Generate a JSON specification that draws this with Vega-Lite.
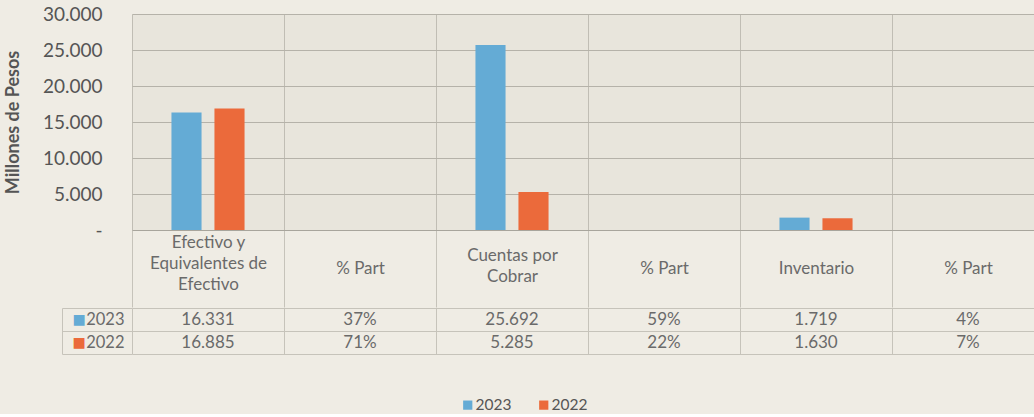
{
  "$schema": "https://vega.github.io/schema/vega-lite/v6.json",
  "background": "#efece4",
  "padding": {"left": 4, "top": 5, "right": 0, "bottom": 0},
  "config": {
    "font": "Lato",
    "view": {"stroke": null}
  },
  "data": {
    "values": [
      {"col": "Efectivo y\nEquivalentes de\nEfectivo", "year": "2023", "value": 16331},
      {"col": "Efectivo y\nEquivalentes de\nEfectivo", "year": "2022", "value": 16885},
      {"col": "% Part", "year": "2023", "value": 0.37},
      {"col": "% Part", "year": "2022", "value": 0.71},
      {"col": "Cuentas por\nCobrar", "year": "2023", "value": 25692},
      {"col": "Cuentas por\nCobrar", "year": "2022", "value": 5285},
      {"col": "% Part ", "year": "2023", "value": 0.59},
      {"col": "% Part ", "year": "2022", "value": 0.22},
      {"col": "Inventario", "year": "2023", "value": 1719},
      {"col": "Inventario", "year": "2022", "value": 1630},
      {"col": "% Part  ", "year": "2023", "value": 0.04},
      {"col": "% Part  ", "year": "2022", "value": 0.07}
    ]
  },
  "spacing": -9,
  "vconcat": [
    {
      "width": 912,
      "height": 216,
      "view": {"fill": "#e8e5dc", "stroke": null},
      "mark": {"type": "bar"},
      "encoding": {
        "x": {
          "field": "col", "type": "nominal",
          "sort": ["Efectivo y\nEquivalentes de\nEfectivo", "% Part", "Cuentas por\nCobrar", "% Part ", "Inventario", "% Part  "],
          "scale": {"paddingInner": 0, "paddingOuter": 0},
          "axis": {
            "title": null, "orient": "bottom",
            "domain": true, "domainColor": "#a8a59c",
            "ticks": true, "tickBand": "extent", "tickSize": 77, "tickColor": "#c6c3ba",
            "grid": true, "gridColor": "#c0bdb4",
            "labelExpr": "split(trim(datum.label), '\\n')",
            "labelAngle": 0, "labelAlign": "center", "labelBaseline": "middle",
            "labelPadding": {
              "condition": [
                {"test": "length(split(datum.value, '\\n')) == 3", "value": -65},
                {"test": "length(split(datum.value, '\\n')) == 2", "value": -52}
              ],
              "value": -39
            },
            "labelLineHeight": 21,
            "labelFontSize": 17, "labelColor": "#6a6a6a"
          }
        },
        "xOffset": {
          "field": "year", "type": "nominal", "sort": ["2023", "2022"],
          "scale": {"paddingInner": 0.3, "paddingOuter": 0.9175}
        },
        "y": {
          "field": "value", "type": "quantitative",
          "scale": {"domain": [0, 30000]},
          "axis": {
            "title": "Millones de Pesos", "titleFontSize": 18, "titleFontWeight": "bold",
            "titleColor": "#555555", "titlePadding": 20,
            "values": [0, 5000, 10000, 15000, 20000, 25000, 30000],
            "labelExpr": "datum.value == 0 ? '-\u00a0\u00a0' : replace(format(datum.value, ','), ',', '.')",
            "labelFontSize": 19, "labelColor": "#555555", "labelPadding": 30,
            "ticks": false, "domain": false,
            "grid": true, "gridColor": "#b5b2a9"
          }
        },
        "color": {
          "field": "year", "type": "nominal",
          "scale": {"domain": ["2023", "2022"], "range": ["#64abd5", "#eb6a3b"]},
          "legend": {
            "orient": "none", "legendX": 328, "legendY": 383,
            "direction": "horizontal", "title": null,
            "symbolType": "square", "symbolSize": 85, "symbolStrokeWidth": 0,
            "labelOffset": 0,
            "labelFontSize": 15.5, "labelColor": "#555555", "columnPadding": 24
          }
        }
      }
    },
    {
      "width": 912,
      "height": 46,
      "view": {"stroke": null},
      "transform": [
        {"calculate": "datum.value < 1 ? format(datum.value, '.0%') : replace(format(datum.value, ','), ',', '.')", "as": "label"}
      ],
      "layer": [
        {
          "mark": {"type": "text", "fontSize": 17, "color": "#6a6a6a", "baseline": "middle"},
          "encoding": {
            "x": {
              "field": "col", "type": "nominal",
              "sort": ["Efectivo y\nEquivalentes de\nEfectivo", "% Part", "Cuentas por\nCobrar", "% Part ", "Inventario", "% Part  "],
              "scale": {"type": "band", "paddingInner": 0, "paddingOuter": 0},
              "axis": {
                "title": null, "labels": false, "ticks": false, "domain": false,
                "grid": true, "tickBand": "extent", "gridColor": "#c6c3ba"
              }
            },
            "y": {
              "field": "year", "type": "nominal", "sort": ["2023", "2022"],
              "scale": {"type": "band", "paddingInner": 0, "paddingOuter": 0},
              "axis": {
                "orient": "left", "title": null, "domain": false,
                "ticks": true, "tickBand": "extent", "tickSize": 70, "tickColor": "#c6c3ba",
                "grid": true, "gridColor": "#c6c3ba",
                "labelPadding": -62, "labelAlign": "right", "labelBaseline": "middle",
                "labelFontSize": 16.5, "labelColor": "#6a6a6a"
              }
            },
            "text": {"field": "label"}
          }
        },
        {
          "mark": {"type": "text", "opacity": 0},
          "encoding": {
            "x": {
              "field": "col", "type": "nominal",
              "sort": ["Efectivo y\nEquivalentes de\nEfectivo", "% Part", "Cuentas por\nCobrar", "% Part ", "Inventario", "% Part  "],
              "scale": {"type": "band", "paddingInner": 0, "paddingOuter": 0}
            },
            "y": {
              "field": "year", "type": "nominal", "sort": ["2023", "2022"],
              "scale": {"type": "band", "paddingInner": 0, "paddingOuter": 0},
              "axis": {
                "orient": "left", "offset": 70, "title": null,
                "domain": true, "domainColor": "#c6c3ba",
                "ticks": false, "grid": false,
                "labelExpr": "'\u25a0'",
                "labelColor": {"condition": {"test": "datum.value == '2023'", "value": "#64abd5"}, "value": "#eb6a3b"},
                "labelAlign": "left", "labelBaseline": "middle", "labelPadding": -10,
                "labelFontSize": 14, "labelFont": "DejaVu Sans"
              }
            },
            "text": {"field": "label"}
          }
        }
      ],
      "resolve": {"axis": {"y": "independent"}}
    }
  ]
}
